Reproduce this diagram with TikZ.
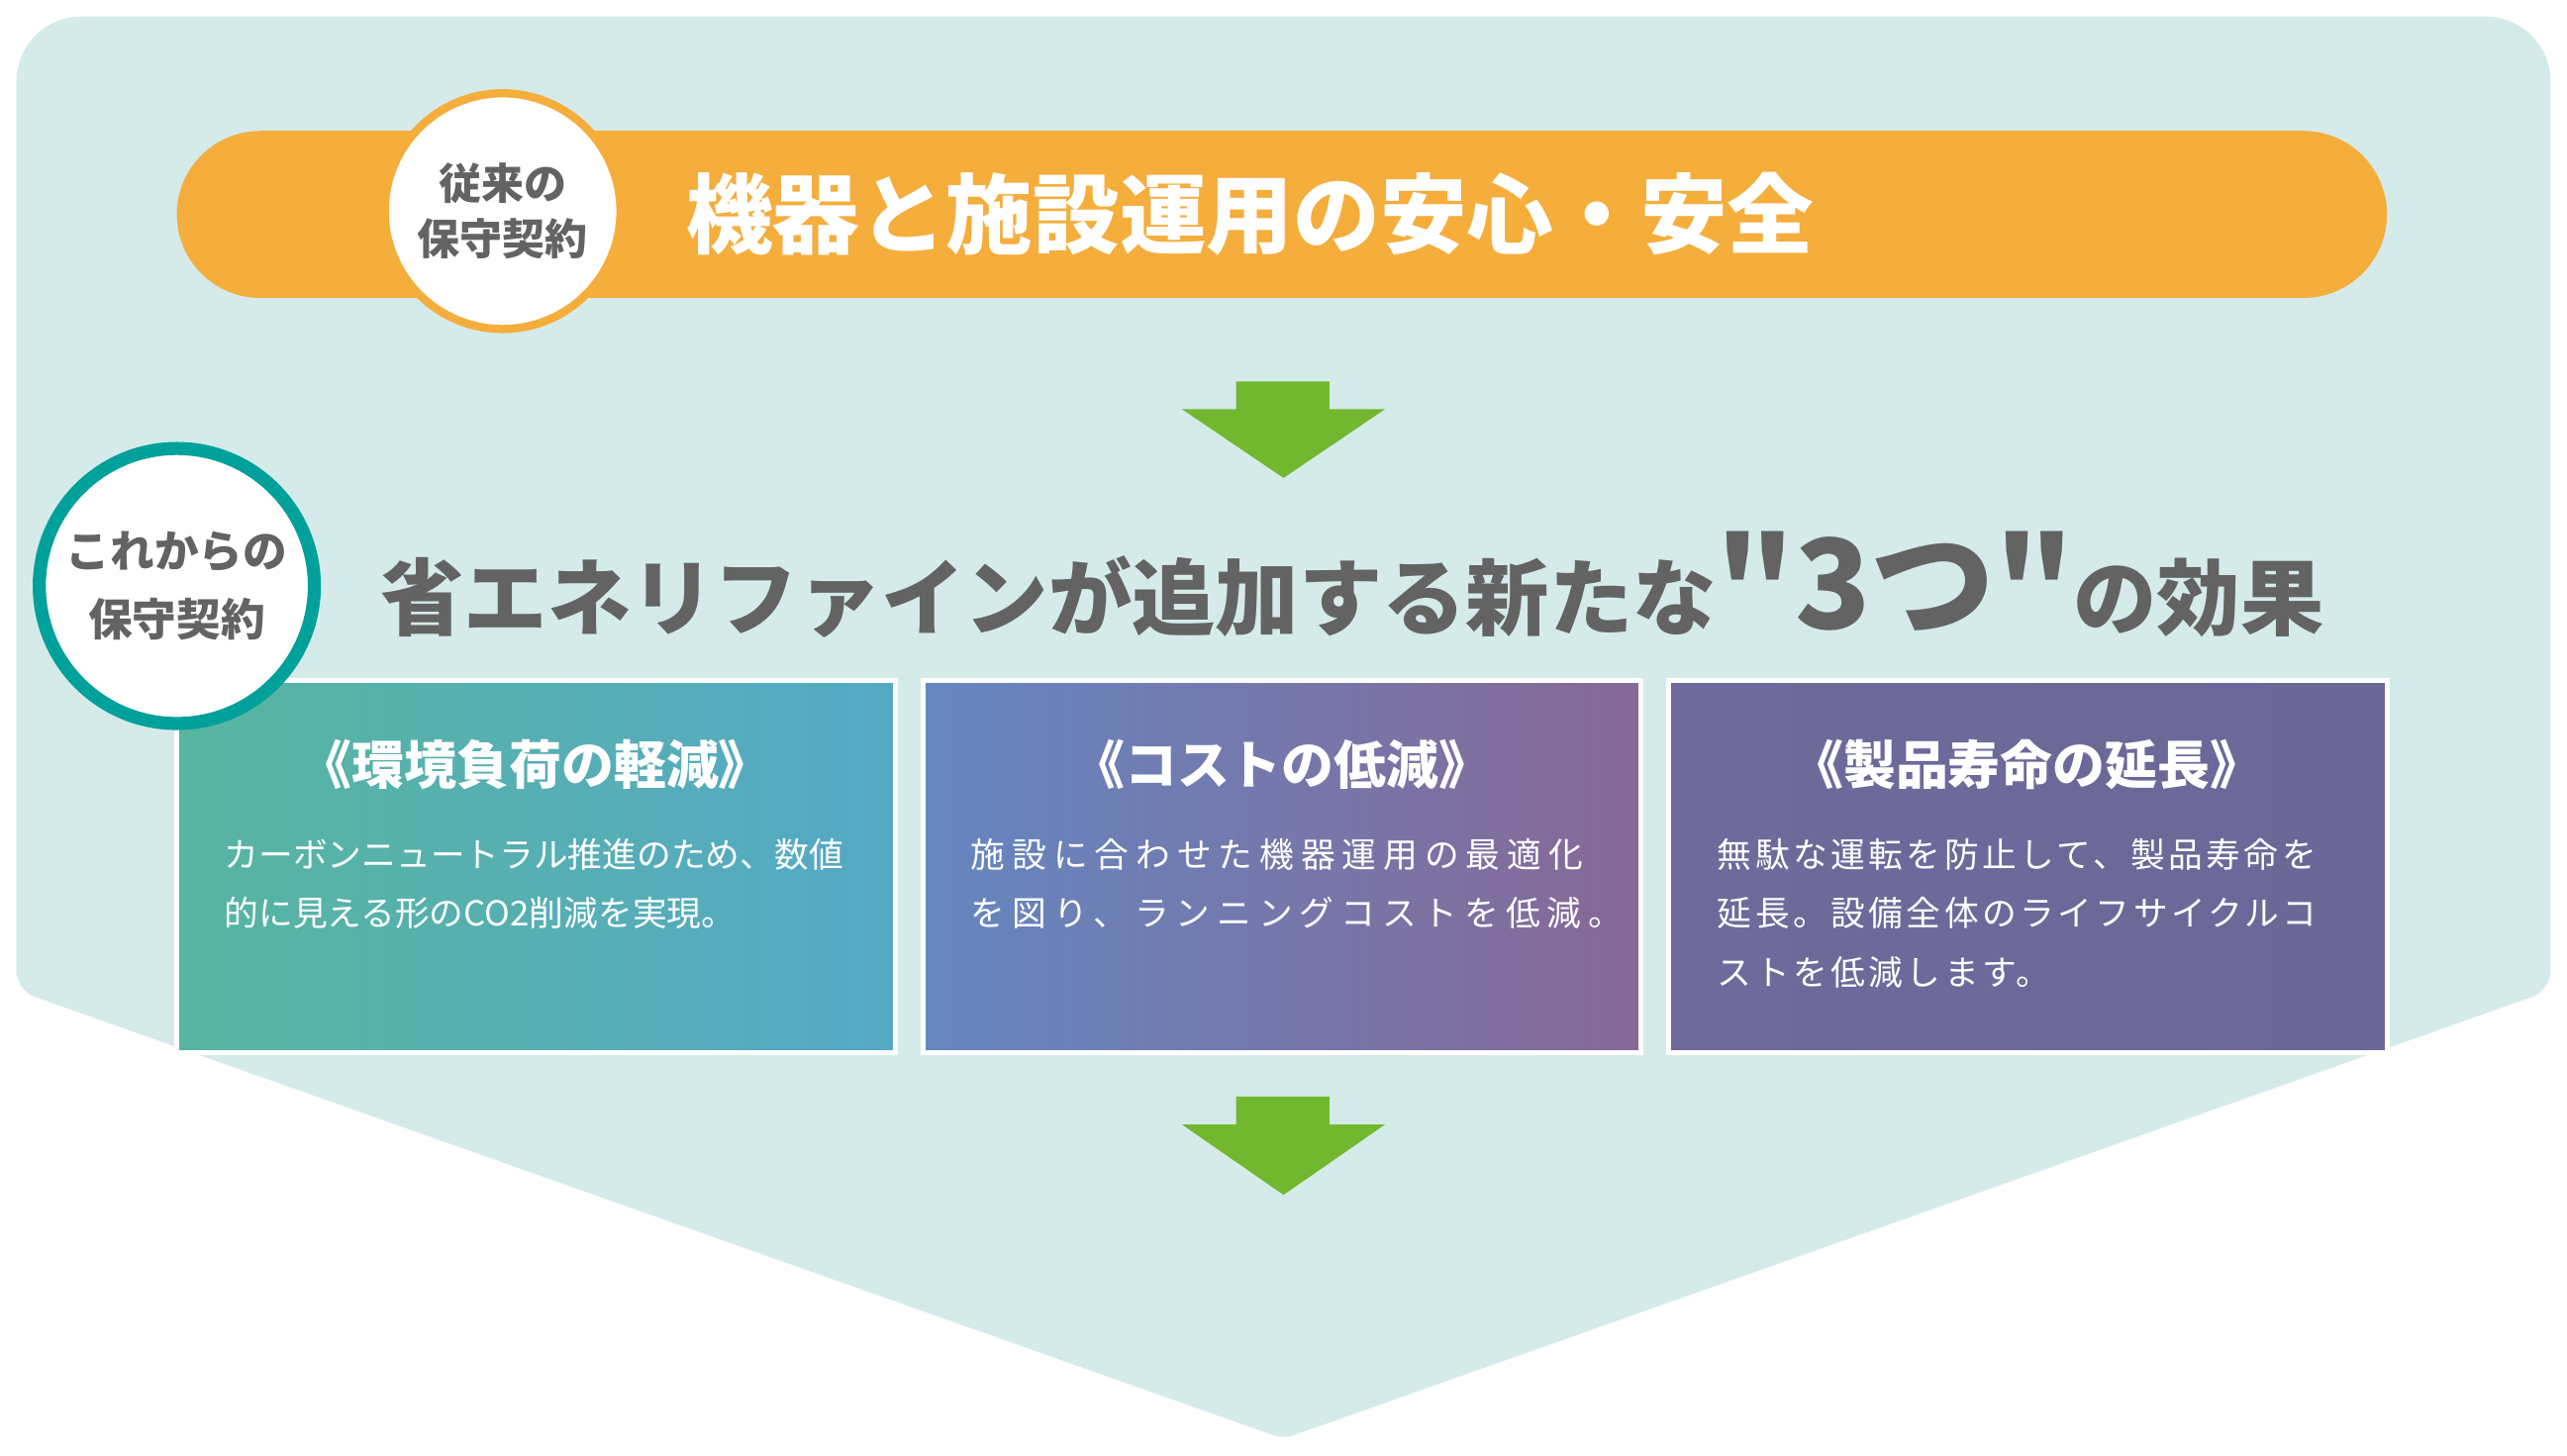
\documentclass[tikz,border=0pt]{standalone}
\usepackage{fontspec}
\newfontfamily\jp{Noto Sans CJK JP}
\definecolor{bgc}{HTML}{D4EBEA}
\definecolor{org}{HTML}{F5AD3C}
\definecolor{grn}{HTML}{72B82E}
\definecolor{tea}{HTML}{00A19A}
\definecolor{gry}{HTML}{636363}
\definecolor{aL}{HTML}{57B59F}\definecolor{aR}{HTML}{55A9C6}
\definecolor{bL}{HTML}{6487C0}\definecolor{bR}{HTML}{876897}
\definecolor{cL}{HTML}{6E6A9B}\definecolor{cR}{HTML}{6B6898}
\tikzset{
 boxtitle/.style={anchor=center,text=white,font=\jp\bfseries\fontsize{16pt}{18pt}\selectfont},
 boxbody/.style={anchor=north west,text=white,align=left,font=\jp\fontsize{10.5pt}{18pt}\selectfont},
 garrow/.style={fill=grn,draw=none}
}
\begin{document}
\begin{tikzpicture}[x=0.5pt,y=-0.5pt]
\useasboundingbox (0,0) rectangle (1568,889);
\fill[white] (0,0) rectangle (1568,889);
% background chevron
\fill[bgc] (784,879) [rounded corners=6] -- (10,605) [rounded corners=20] -- (10,10) -- (1558,10) [rounded corners=6] -- (1558,605) [rounded corners=3] -- cycle;
% orange bar
\fill[org] (159,80) rectangle (1407,182);
\fill[org] (159,131) circle[radius=25.5pt];
\fill[org] (1407,131) circle[radius=25.5pt];
\node[anchor=west,text=white,font=\jp\bfseries\fontsize{26.5pt}{30pt}\selectfont] (t1) at (412,131) {機器と施設運用の安心・安全};
\node[circle,draw=org,line width=2.5pt,fill=white,minimum size=72pt,align=center,text=gry,font=\jp\bfseries\fontsize{13pt}{17pt}\selectfont] (c1) at (307,129) {従来の\\保守契約};
% arrow 1
\fill[garrow] (755,233) -- (812,233) -- (812,250) -- (846,250) -- (784,292) -- (722,250) -- (755,250) -- cycle;
% title
\node[anchor=west,text=gry,font=\jp\bfseries\fontsize{25.5pt}{28pt}\selectfont,inner sep=0] (t2) at (232,357) {省エネリファインが追加する新たな{\fontsize{38pt}{38pt}\selectfont"3つ"}の効果};
% boxes
\shade[left color=aL,right color=aR,draw=white,line width=1.5pt] (108,416) rectangle (547,643);
\shade[left color=bL,right color=bR,draw=white,line width=1.5pt] (564,416) rectangle (1002,643);
\shade[left color=cL,right color=cR,draw=white,line width=1.5pt] (1019,416) rectangle (1458,643);
\node[boxtitle] (h1) at (327,467) {《環境負荷の軽減》};
\node[boxtitle] (h2) at (783,467) {《コストの低減》};
\node[boxtitle] (h3) at (1238,467) {《製品寿命の延長》};
\node[boxbody] (b1) at (130,505) {カーボンニュートラル推進のため、数値\\的に見える形のCO2削減を実現。};
\node[boxbody,font=\jp\addfontfeature{LetterSpace=20}\fontsize{10.5pt}{18pt}\selectfont] (b2) at (586,505) {施設に合わせた機器運用の最適化\\を図り、ランニングコストを低減。};
\node[boxbody,font=\jp\addfontfeature{LetterSpace=10}\fontsize{10.5pt}{18pt}\selectfont] (b3) at (1042,505) {無駄な運転を防止して、製品寿命を\\延長。設備全体のライフサイクルコ\\ストを低減します。};
% teal circle
\node[circle,draw=tea,line width=4pt,fill=white,minimum size=84pt,align=center,text=gry,font=\jp\bfseries\fontsize{13.5pt}{21pt}\selectfont] (c2) at (108,358) {これからの\\保守契約};
% arrow 2
\fill[garrow] (755,670) -- (812,670) -- (812,687) -- (846,687) -- (784,730) -- (722,687) -- (755,687) -- cycle;
\end{tikzpicture}
\end{document}
